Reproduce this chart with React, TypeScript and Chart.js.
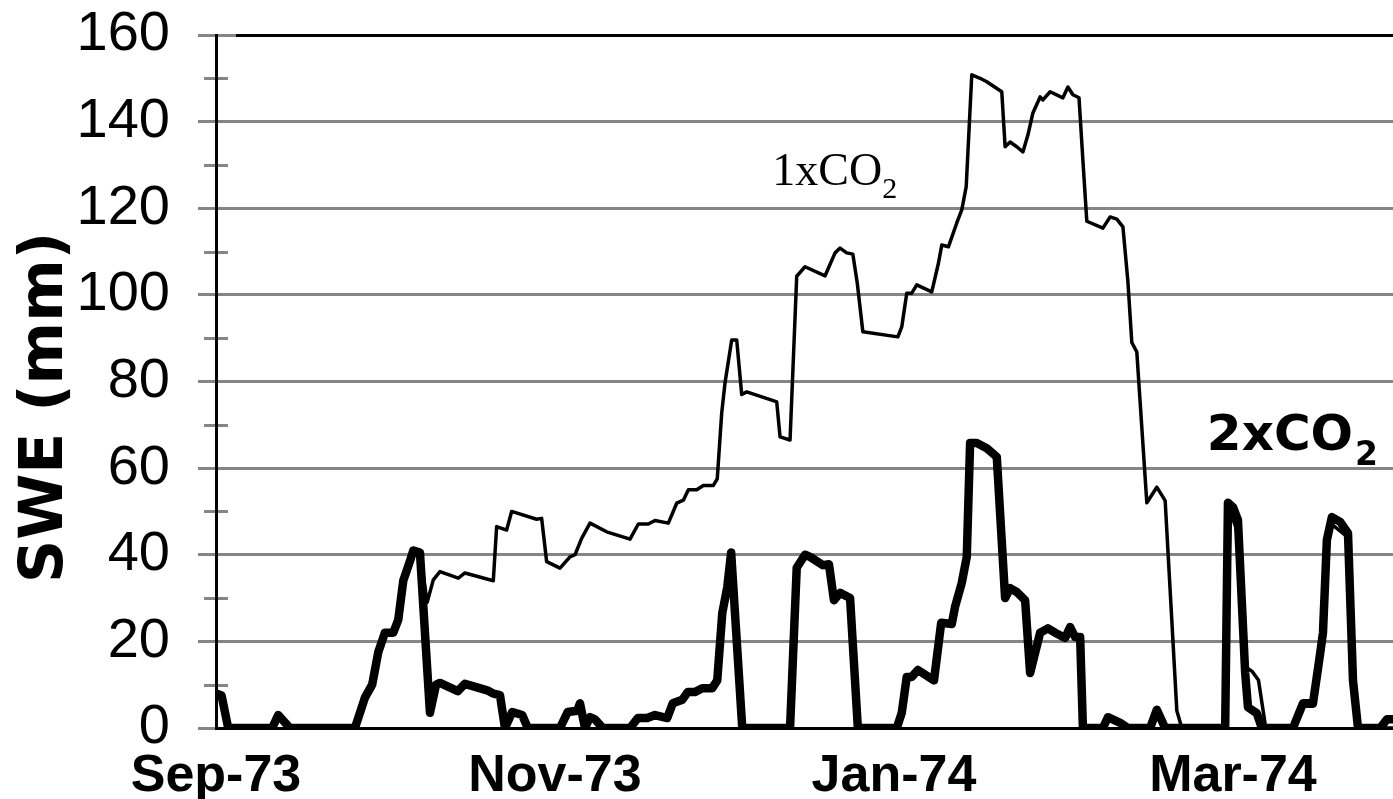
import React, { useEffect, useRef } from 'react';
import { Chart, registerables } from 'chart.js';

Chart.register(...registerables);

// [days since 1 Sep 1973, SWE (mm)]
const swe2xCO2: [number, number][] = [
  [0, 8], [1, 7.5], [2.2, 0], [10.1, 0], [11.2, 3], [13.3, 0], [25, 0], [26.8, 7], [28.1, 10], [29.2, 17.5],
  [30.4, 22], [31.9, 22], [32.8, 25], [33.7, 34], [34.9, 38.5], [35.5, 41], [36.7, 40.5], [38.5, 3.5], [39.6, 10],
  [40.3, 10.4], [43.5, 8.5], [44.8, 10.2], [48.8, 8.7], [49.8, 8], [51.1, 7.6], [52, 0], [53.3, 3.7], [55.1, 3],
  [56.1, 0], [61.9, 0], [63.3, 3.7], [65, 4], [65.5, 5.7], [66.4, 0], [67.3, 2.5], [68.2, 2], [69.6, 0], [74.5, 0],
  [75.9, 2.3], [77.6, 2.3], [79, 3], [81.2, 2.3], [82.2, 5.7], [83.9, 6.5], [84.9, 8.3], [86.2, 8.3], [87.5, 9.2],
  [89.3, 9.2], [90.2, 11], [91.1, 26.5], [92, 32.5], [92.7, 40.5], [94.7, 0], [103.3, 0], [104.5, 37], [106, 40],
  [106.9, 39.5], [109.2, 37.6], [110.3, 37.8], [111.2, 29.5], [112.3, 31.2], [114.1, 30], [115.5, 0], [122.5, 0],
  [123.4, 3.5], [124.3, 11.8], [125.2, 11.8], [126.3, 13.4], [129.2, 11], [130.5, 24.3], [132.4, 24], [133, 28],
  [134.2, 33.5], [135.1, 39.5], [135.7, 65.8], [136.9, 65.8], [138.7, 64.6], [140.5, 62.6], [142, 30], [142.9, 32.3],
  [144.1, 31.4], [145.6, 29.5], [146.5, 12.7], [148.3, 22], [149.7, 23], [151, 22], [152.8, 20.8], [153.7, 23.3],
  [154.6, 21], [155.5, 21], [156, 0], [159.6, 0], [160.5, 2.5], [162.7, 1.2], [164.1, 0], [168.1, 0], [169.3, 4.2],
  [170.8, 0], [181.6, 0], [182.1, 52], [183, 51], [183.9, 48], [185.2, 12.7], [185.7, 4.8], [187.3, 3.4], [188.2, 0],
  [193.8, 0], [195.6, 5.7], [197.4, 5.7], [198.7, 17.3], [199.2, 22], [199.9, 43.4], [200.8, 48.7], [202.3, 47.6],
  [203.7, 45], [204.6, 11], [205.5, 0], [209.5, 0], [210.7, 2], [211.8, 2],
];

const swe1xCO2: [number, number][] = [
  [0, 8], [1, 7.5], [2.2, 0], [10.1, 0], [11.2, 3], [13.3, 0], [25, 0], [26.8, 7], [28.1, 10], [29.2, 17.5],
  [30.4, 22], [31.9, 22], [32.8, 25], [33.7, 34], [34.9, 38.5], [35.5, 41], [36.7, 40.5], [38, 29], [39.1, 34.2],
  [40.3, 36.1], [43.6, 34.6], [44.8, 35.8], [49.9, 34], [50.5, 46.5], [52.3, 45.7], [53.2, 50], [57.7, 48.2],
  [58.6, 48.4], [59.5, 38.4], [61.9, 36.9], [63.7, 39.5], [64.6, 40], [65.8, 43.8], [67.3, 47.3], [70.3, 45.3],
  [74.5, 43.6], [76, 47.1], [77.8, 47.1], [79, 47.9], [81.4, 47.3], [82.9, 51.9], [84.1, 52.6], [85, 55], [86.5, 55],
  [87.7, 56], [89.5, 56], [90.2, 57.5], [91, 72.7], [91.6, 79.7], [92.8, 89.6], [93.7, 89.6], [94.6, 77], [95.5, 77.6],
  [100, 75.7], [100.9, 75.3], [101.5, 67.2], [103.3, 66.5], [104.5, 104.3], [106, 106.5], [109.6, 104.4],
  [111.4, 109.7], [112.3, 110.8], [113.5, 109.7], [114.6, 109.4], [115.4, 102.7], [116.4, 91.5], [122.7, 90.3],
  [123.4, 92.6], [124.3, 100.4], [125.2, 100.4], [126.1, 102.3], [128.8, 100.7], [130, 107.3], [130.6, 111.5],
  [131.8, 111.1], [133.3, 116.6], [134.2, 119.6], [135, 125], [136, 150.8], [137.5, 150], [138.7, 149.2],
  [141.4, 146.9], [142, 134.2], [142.9, 135.3], [144.1, 134.2], [145.2, 133], [146.1, 136.9], [147, 142],
  [148.3, 145.7], [148.8, 145], [150.1, 146.9], [152.4, 145.5], [153.3, 148], [154.2, 146.2], [155.3, 145.5],
  [156, 131], [156.7, 117], [159.6, 115.4], [160.9, 118], [162.1, 117.5], [163.2, 115.7], [164.1, 103], [164.8, 89],
  [165.7, 86.8], [167.5, 52], [169.3, 55.6], [170.8, 52.5], [172.9, 4], [173.8, 0], [181.6, 0], [182.5, 50],
  [183.6, 46], [185.4, 14], [186.5, 13], [187.6, 11], [188.9, 0], [193.8, 0], [195.6, 5], [197.4, 5], [198.7, 16],
  [199.9, 42], [200.8, 47], [203.7, 44], [204.6, 10], [205.5, 0], [211.8, 0],
];

const monthTickDays = [0, 61, 122, 183];
const monthTickLabels = ['Sep-73', 'Nov-73', 'Jan-74', 'Mar-74'];
const minorTickValues = [10, 30, 50, 70, 90, 110, 130, 150];
const Y_MIN = 0;
const Y_MAX = 160;
const Y_STEP = 20;
const X_MAX_DAY = 211.8;

const GRID = '#858585';
const SANS = '"Liberation Sans", Arial, sans-serif';
const VERD = '"DejaVu Sans", Verdana, sans-serif';
const SERIF = '"Liberation Serif", "Times New Roman", serif';

const decorPlugin = {
  id: 'decor',
  beforeDraw(chart: any) {
    const { ctx, chartArea, scales } = chart;
    ctx.save();
    ctx.strokeStyle = GRID;
    ctx.lineWidth = 3;
    minorTickValues.forEach((v) => {
      const py = Math.round(scales.y.getPixelForValue(v)) + 0.5;
      ctx.beginPath();
      ctx.moveTo(chartArea.left - 12, py);
      ctx.lineTo(chartArea.left + 12, py);
      ctx.stroke();
    });
    ctx.restore();
  },
  afterDraw(chart: any) {
    const { ctx, chartArea, scales } = chart;
    ctx.save();
    // top border
    ctx.strokeStyle = '#000';
    ctx.lineWidth = 3;
    ctx.beginPath();
    ctx.moveTo(chartArea.left + 20, chartArea.top + 0.5);
    ctx.lineTo(chartArea.right, chartArea.top + 0.5);
    ctx.stroke();

    ctx.fillStyle = '#000';
    // y-axis title
    ctx.save();
    ctx.translate(62, (chartArea.top + chartArea.bottom) / 2 + 26);
    ctx.rotate(-Math.PI / 2);
    ctx.font = `bold 60px ${VERD}`;
    ctx.textAlign = 'center';
    ctx.textBaseline = 'alphabetic';
    ctx.fillText('SWE (mm)', 0, 0);
    ctx.restore();

    // 1xCO2 label
    ctx.textAlign = 'left';
    ctx.textBaseline = 'alphabetic';
    let x = scales.x.getPixelForValue(100.1);
    let y = scales.y.getPixelForValue(125.4);
    ctx.font = `46px ${SERIF}`;
    ctx.fillText('1xCO', x, y);
    let w = ctx.measureText('1xCO').width;
    ctx.font = `30px ${SERIF}`;
    ctx.fillText('2', x + w, y + 13);

    // 2xCO2 label
    x = scales.x.getPixelForValue(178.3);
    y = scales.y.getPixelForValue(64.2);
    ctx.font = `bold 50px ${VERD}`;
    ctx.fillText('2xCO', x, y);
    w = ctx.measureText('2xCO').width;
    ctx.font = `bold 33px ${VERD}`;
    ctx.fillText('2', x + w + 2, y + 15);
    ctx.restore();
  },
};

export default function App() {
  const canvasRef = useRef<HTMLCanvasElement | null>(null);

  useEffect(() => {
    document.body.style.margin = '0';
    const canvas = canvasRef.current;
    if (!canvas) return;
    const chart = new Chart(canvas, {
      type: 'line',
      data: {
        datasets: [
          {
            label: '2xCO2',
            data: swe2xCO2.map(([d, v]) => ({ x: d, y: v })),
            borderColor: '#000',
            borderWidth: 8.5,
            pointRadius: 0,
            tension: 0,
            fill: false,
            borderJoinStyle: 'round',
            borderCapStyle: 'round',
          },
          {
            label: '1xCO2',
            data: swe1xCO2.map(([d, v]) => ({ x: d, y: v })),
            borderColor: '#000',
            borderWidth: 3.5,
            pointRadius: 0,
            tension: 0,
            fill: false,
            borderJoinStyle: 'round',
            borderCapStyle: 'round',
          },
        ],
      },
      options: {
        animation: false,
        responsive: false,
        devicePixelRatio: 1,
        layout: { padding: { top: 35, right: 0, left: 0, bottom: 0 } },
        plugins: {
          legend: { display: false },
          tooltip: { enabled: false },
          title: { display: false },
        },
        scales: {
          x: {
            type: 'linear',
            min: 0,
            max: X_MAX_DAY,
            grid: { display: false, drawTicks: false },
            border: { display: true, color: '#000', width: 3 },
            afterBuildTicks: (scale: any) => {
              scale.ticks = monthTickDays.map((v) => ({ value: v }));
            },
            afterFit: (scale: any) => {
              scale.height = 71;
              scale.paddingLeft = 0;
              scale.paddingRight = 0;
              scale.paddingTop = 0;
              scale.paddingBottom = 0;
            },
            ticks: {
              autoSkip: false,
              maxRotation: 0,
              minRotation: 0,
              padding: 17,
              color: '#000',
              font: { family: SANS, size: 52, weight: 'bold' },
              callback: (v: any) => {
                const i = monthTickDays.indexOf(Number(v));
                return i >= 0 ? monthTickLabels[i] : '';
              },
            },
          },
          y: {
            min: Y_MIN,
            max: Y_MAX,
            afterFit: (scale: any) => {
              scale.width = 216;
              scale.paddingTop = 0;
              scale.paddingBottom = 0;
              scale.paddingLeft = 0;
              scale.paddingRight = 0;
            },
            grid: {
              color: (c: any) => (c.tick && c.tick.value === 0 ? '#000' : GRID),
              lineWidth: 3,
              tickColor: GRID,
              tickLength: 18,
              tickWidth: 3,
            },
            border: { display: true, color: '#000', width: 3 },
            ticks: {
              stepSize: Y_STEP,
              padding: 28,
              color: '#000',
              font: { family: SANS, size: 56 },
            },
          },
        },
      },
      plugins: [decorPlugin],
    } as any);
    return () => chart.destroy();
  }, []);

  return (
    <div style={{ position: 'absolute', left: 0, top: 0, width: 1393, height: 799, background: '#fff' }}>
      <canvas ref={canvasRef} width={1393} height={799} />
    </div>
  );
}
